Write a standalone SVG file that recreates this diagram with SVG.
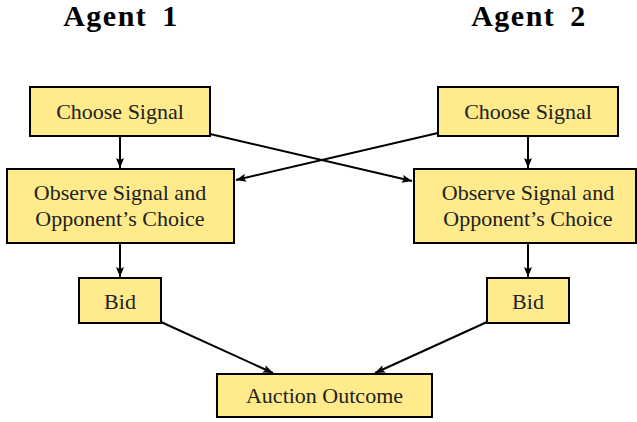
<svg xmlns="http://www.w3.org/2000/svg" width="637" height="422" viewBox="0 0 637 422">
<defs>
<style>
.box{fill:#ffea8c;stroke:#000;stroke-width:2}
.t{font-family:'Liberation Serif','Times New Roman',serif;font-size:22px;fill:#222;text-anchor:middle}
.h{font-family:'Liberation Serif','Times New Roman',serif;font-size:30px;font-weight:bold;fill:#000;text-anchor:middle;letter-spacing:1.5px;word-spacing:6px}
.c{stroke:#000;stroke-width:2;fill:none;marker-end:url(#ah)}
</style>
<marker id="ah" viewBox="0 0 10 8" refX="10" refY="4" markerWidth="10" markerHeight="8" markerUnits="userSpaceOnUse" orient="auto"><path d="M0,0 L10,4 L0,8 L2,4 Z" fill="#000"/></marker>
</defs>
<rect width="637" height="422" fill="#fff"/>
<text class="h" x="121" y="26">Agent 1</text>
<text class="h" x="529" y="26">Agent 2</text>
<g id="choose1"><rect class="box" x="30" y="87" width="180" height="49"/><text class="t" x="120" y="119">Choose Signal</text></g>
<g id="choose2"><rect class="box" x="438" y="87" width="180" height="49"/><text class="t" x="528" y="119">Choose Signal</text></g>
<g id="observe1"><rect class="box" x="7" y="169" width="227" height="74"/><text class="t" x="120" y="200">Observe Signal and</text><text class="t" x="120" y="226">Opponent’s Choice</text></g>
<g id="observe2"><rect class="box" x="414" y="169" width="222" height="74"/><text class="t" x="528" y="200">Observe Signal and</text><text class="t" x="528" y="226">Opponent’s Choice</text></g>
<g id="bid1"><rect class="box" x="79" y="278" width="82" height="45"/><text class="t" x="120" y="309">Bid</text></g>
<g id="bid2"><rect class="box" x="487" y="278" width="82" height="45"/><text class="t" x="528" y="309">Bid</text></g>
<g id="outcome"><rect class="box" x="217" y="374" width="215" height="43"/><text class="t" x="324.5" y="403">Auction Outcome</text></g>
<g id="connectors">
<line class="c" x1="120" y1="136" x2="120" y2="168"/>
<line class="c" x1="528" y1="136" x2="528" y2="168"/>
<line class="c" x1="120" y1="243" x2="120" y2="277"/>
<line class="c" x1="528" y1="243" x2="528" y2="277"/>
<line class="c" x1="210" y1="134" x2="412" y2="181"/>
<line class="c" x1="438" y1="133" x2="236" y2="180"/>
<line class="c" x1="161" y1="322" x2="273" y2="373"/>
<line class="c" x1="487" y1="322" x2="375" y2="373"/>
</g>
</svg>
